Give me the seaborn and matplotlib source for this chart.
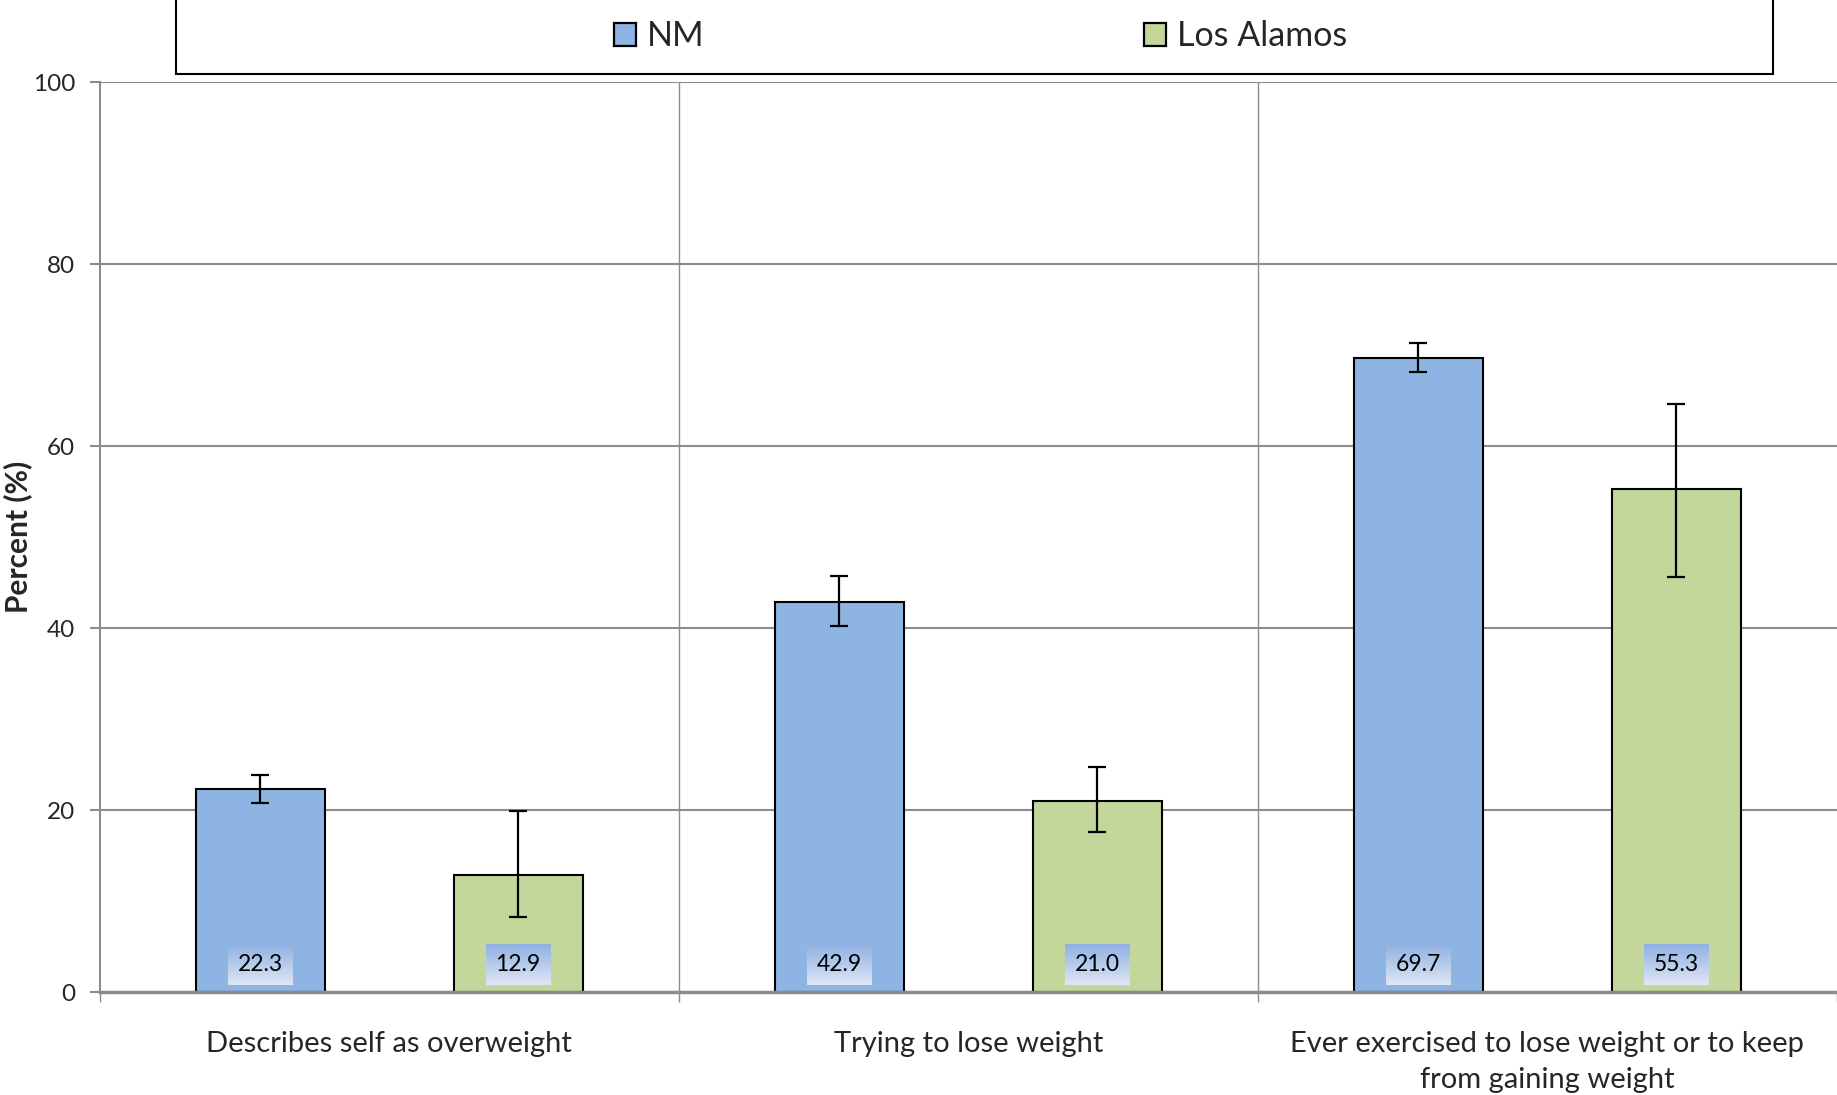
import numpy as np
import pandas as pd
import seaborn as sns
import matplotlib.pyplot as plt
from matplotlib.patches import Rectangle
from matplotlib.colors import LinearSegmentedColormap

categories = ["Describes self as overweight",
              "Trying to lose weight",
              "Ever exercised to lose weight or to keep\nfrom gaining weight"]
groups = ["NM", "Los Alamos"]
nm_values = [22.3, 42.9, 69.7]
la_values = [12.9, 21.0, 55.3]
nm_lower = [20.8, 40.2, 68.1]
nm_upper = [23.9, 45.7, 71.3]
la_lower = [8.2, 17.6, 45.6]
la_upper = [19.9, 24.7, 64.6]
y_ticks = [0, 20, 40, 60, 80, 100]

colors = {"NM": "#8eb4e3", "Los Alamos": "#c4d79b"}
grid_col = "#8c8c8c"

df = pd.DataFrame({
    "category": categories * 2,
    "group": ["NM"] * 3 + ["Los Alamos"] * 3,
    "value": nm_values + la_values,
})
lower = nm_lower + la_lower
upper = nm_upper + la_upper

sns.set_theme(style="white")
plt.rcParams['font.family'] = ['Lato', 'DejaVu Sans']

fig = plt.figure(figsize=(18.37, 10.95), dpi=100)
ax = fig.add_axes([0.0542, 0.094, 0.9458, 0.831])

sns.barplot(data=df, x="category", y="value", hue="group", order=categories,
            hue_order=groups, palette=colors, saturation=1, width=0.891, gap=0.5,
            edgecolor="black", linewidth=1.5, errorbar=None, ax=ax, zorder=3,
            legend=False)

xs = {}
for p in ax.patches:
    xs[round(p.get_height(), 3)] = p.get_x() + p.get_width() / 2

vals = nm_values + la_values
centers = [xs[round(v, 3)] for v in vals]
yerr = np.array([[v - l for v, l in zip(vals, lower)],
                 [u - v for v, u in zip(vals, upper)]])
ax.errorbar(centers, vals, yerr=yerr, fmt="none", ecolor="black",
            elinewidth=1.6, capsize=6.5, capthick=1.6, zorder=4)

texts = []
for cx, v in zip(centers, vals):
    t = ax.text(cx, 3, f"{v:.1f}", ha="center", va="center", fontsize=16.5,
                color="black", zorder=6,
                bbox=dict(boxstyle="square,pad=0.42", facecolor="none",
                          edgecolor="none"))
    texts.append(t)

ax.set_ylim(0, 100)
ax.set_xlim(-0.5, 2.5)
ax.set_yticks(y_ticks)
ax.set_yticklabels([str(t) for t in y_ticks])
ax.yaxis.grid(True, color=grid_col, linewidth=1.5, zorder=0)
ax.set_axisbelow(True)

ax.set_xticks([0, 1, 2])
ax.set_xticklabels(categories, fontsize=21, linespacing=1.5)
ax.set_xticks([-0.5, 0.5, 1.5, 2.5], minor=True)
ax.tick_params(axis="x", which="major", length=0, pad=28)
ax.tick_params(axis="x", which="minor", length=7.5, width=1.0, color=grid_col,
               direction="out", bottom=True)
ax.tick_params(axis="y", which="major", length=7.5, width=1.5, color=grid_col,
               direction="out", left=True, labelsize=17.5, pad=10)
for xb in [0.5, 1.5]:
    ax.axvline(xb, color=grid_col, linewidth=1.0, zorder=0)

for s in ["top", "right"]:
    ax.spines[s].set_visible(False)
ax.spines["left"].set_color(grid_col)
ax.spines["left"].set_linewidth(1.5)
ax.spines["bottom"].set_color(grid_col)
ax.spines["bottom"].set_linewidth(2.5)
ax.spines["bottom"].set_zorder(4)

ax.set_xlabel("")
ax.set_ylabel("Percent (%)", fontsize=21.5, fontweight="bold")
ax.yaxis.set_label_coords(-0.0386, 0.5)

# legend box
fig.patches.append(Rectangle((0.0958, 0.9324), 0.8694, 0.2, transform=fig.transFigure,
                             facecolor="white", edgecolor="black", linewidth=1.5,
                             zorder=1))
handles = [Rectangle((0, 0), 1, 1, facecolor=colors[g], edgecolor="black",
                     linewidth=1.6) for g in groups]
fig.legend(handles, groups, loc="center", bbox_to_anchor=(0.5338, 0.967),
           ncol=2, frameon=False, fontsize=24.5, handlelength=0.65,
           handleheight=0.65, handletextpad=0.32, columnspacing=12.9)

# gradient backgrounds for value labels
fig.canvas.draw()
renderer = fig.canvas.get_renderer()
grad_cmap = LinearSegmentedColormap.from_list("lbl", ["#dfe6f4", "#8fb1e2"])
grad = np.linspace(0, 1, 64).reshape(-1, 1)
inv = ax.transData.inverted()
for t in texts:
    bb = t.get_bbox_patch().get_window_extent(renderer)
    (x0, y0), (x1, y1) = inv.transform([[bb.x0, bb.y0], [bb.x1, bb.y1]])
    ax.imshow(grad, cmap=grad_cmap, origin="lower", aspect="auto",
              extent=(x0, x1, y0, y1), zorder=5, interpolation="bilinear")
ax.set_xlim(-0.5, 2.5)
ax.set_ylim(0, 100)

fig.savefig("out.png", dpi=100)
